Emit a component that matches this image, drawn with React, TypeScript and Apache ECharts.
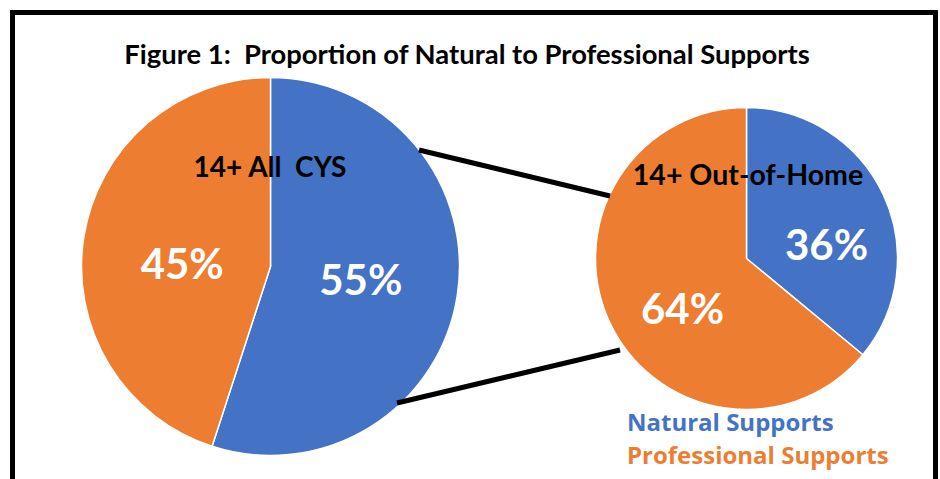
import React, { useEffect, useRef } from "react";
import * as echarts from "echarts";

const chartTitle = "Figure 1:  Proportion of Natural to Professional Supports";
const categories = ["Natural Supports", "Professional Supports"];
const allCysTitle = "14+ All  CYS";
const allCysValues = [55, 45];
const outOfHomeTitle = "14+ Out-of-Home";
const outOfHomeValues = [36, 64];

const BLUE = "#4472C4";
const ORANGE = "#ED7D31";
const FONT = "Lato, 'Open Sans', sans-serif";
const LEGEND_FONT = "'Open Sans', 'Noto Sans', sans-serif";

export default function App() {
  const ref = useRef<HTMLDivElement>(null);
  useEffect(() => {
    if (!ref.current) return;
    const chart = echarts.init(ref.current, undefined, { renderer: "svg" });
    const colors = [BLUE, ORANGE];
    const leftOffsets = [[-6, -3], [8, 12]];
    const rightOffsets = [[9, 19], [7, 16]];
    const makeData = (vals: number[], offs: number[][]) =>
      vals.map((v, i) => ({
        name: categories[i],
        value: v,
        itemStyle: { color: colors[i] },
        label: { offset: offs[i] },
      }));
    const labelStyle = {
      show: true,
      position: "inside",
      formatter: (p: any) => `${p.value}%`,
      color: "#ffffff",
      fontFamily: FONT,
      fontWeight: "bold",
      fontSize: 42,
    };
    chart.setOption({
      animation: false,
      backgroundColor: "#ffffff",
      title: [
        {
          text: chartTitle,
          left: 462,
          top: 35,
          textAlign: "center",
          textStyle: { fontFamily: FONT, fontWeight: "bold", fontSize: 27.4, color: "#000" },
        },
        {
          text: allCysTitle,
          left: 265,
          top: 147,
          textAlign: "center",
          z: 10,
          textStyle: { fontFamily: FONT, fontWeight: "bold", fontSize: 28, color: "#000" },
        },
        {
          text: outOfHomeTitle,
          left: 743,
          top: 154,
          textAlign: "center",
          z: 10,
          textStyle: { fontFamily: FONT, fontWeight: "bold", fontSize: 28.5, color: "#000" },
        },
      ],
      legend: {
        orient: "vertical",
        left: 622,
        top: 406,
        icon: "none",
        itemWidth: 0,
        itemHeight: 0,
        itemGap: 3,
        padding: 0,
        selectedMode: false,
        data: [
          { name: categories[0], textStyle: { color: BLUE } },
          { name: categories[1], textStyle: { color: ORANGE } },
        ],
        textStyle: {
          fontFamily: LEGEND_FONT,
          fontWeight: "bold",
          fontSize: 24,
          lineHeight: 30,
          padding: [0, 0, 0, 0],
        },
      },
      graphic: [
        {
          type: "rect",
          shape: { x: 12.5, y: 12.5, width: 923, height: 520 },
          style: { fill: "none", stroke: "#000", lineWidth: 5 },
          z: 100,
        },
        {
          type: "line",
          shape: { x1: 419, y1: 150, x2: 610, y2: 196 },
          style: { stroke: "#000", lineWidth: 5 },
          z: 50,
        },
        {
          type: "line",
          shape: { x1: 397, y1: 403, x2: 620, y2: 350 },
          style: { stroke: "#000", lineWidth: 5 },
          z: 50,
        },
      ],
      series: [
        {
          type: "pie",
          center: [270.5, 266.5],
          radius: 189,
          startAngle: 90,
          clockwise: true,
          label: labelStyle,
          labelLine: { show: false },
          itemStyle: { borderColor: "#ffffff", borderWidth: 1.5 },
          emphasis: { disabled: true },
          data: makeData(allCysValues, leftOffsets),
        },
        {
          type: "pie",
          center: [746.5, 258.5],
          radius: 151,
          startAngle: 90,
          clockwise: true,
          label: labelStyle,
          labelLine: { show: false },
          itemStyle: { borderColor: "#ffffff", borderWidth: 1.5 },
          emphasis: { disabled: true },
          data: makeData(outOfHomeValues, rightOffsets),
        },
      ],
    });
    return () => chart.dispose();
  }, []);
  return <div ref={ref} style={{ width: 940, height: 479, position: "absolute", left: 0, top: 0 }} />;
}
